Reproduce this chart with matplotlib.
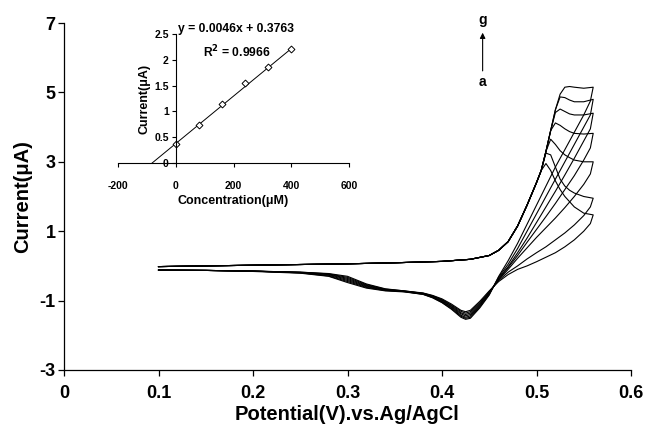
import matplotlib
matplotlib.use("Agg")
import matplotlib.pyplot as plt
import numpy as np

plt.rcParams['font.family'] = ['Liberation Sans', 'DejaVu Sans']
plt.rcParams['font.weight'] = 'bold'
plt.rcParams['axes.unicode_minus'] = False

# ---------------- main CV data ----------------
curve_names = ['a', 'b', 'c', 'd', 'e', 'f', 'g']

fwd_potential = [0.10, 0.15, 0.20, 0.25, 0.30, 0.35, 0.40, 0.43, 0.45, 0.46,
                 0.47, 0.48, 0.49, 0.50, 0.505, 0.51, 0.515, 0.52, 0.525,
                 0.53, 0.535, 0.54, 0.55, 0.56]
fwd_base = [-0.02, 0.00, 0.02, 0.04, 0.06, 0.09, 0.13, 0.19, 0.30, 0.45,
            0.70, 1.15, 1.75, 2.40]
fwd_tail = {
    'a': [2.75, 2.95, 2.75, 2.45, 2.20, 2.00, 1.85, 1.70, 1.52, 1.47],
    'b': [2.75, 3.25, 3.20, 2.85, 2.50, 2.30, 2.18, 2.10, 2.00, 1.95],
    'c': [2.75, 3.30, 3.65, 3.50, 3.32, 3.20, 3.12, 3.05, 3.00, 3.00],
    'd': [2.75, 3.30, 3.90, 4.12, 4.05, 3.95, 3.87, 3.82, 3.80, 3.82],
    'e': [2.75, 3.30, 3.90, 4.42, 4.52, 4.45, 4.38, 4.35, 4.35, 4.40],
    'f': [2.75, 3.30, 3.90, 4.50, 4.87, 4.85, 4.78, 4.73, 4.73, 4.80],
    'g': [2.75, 3.30, 3.90, 4.50, 4.95, 5.15, 5.17, 5.15, 5.12, 5.15],
}

rev_potential = [0.56, 0.557, 0.55, 0.54, 0.53, 0.52, 0.51, 0.50, 0.49, 0.48,
                 0.47, 0.46, 0.45, 0.44, 0.43, 0.425, 0.42, 0.41, 0.40, 0.39,
                 0.38, 0.36, 0.34, 0.32, 0.30, 0.28, 0.25, 0.20, 0.15, 0.10]
rev_current = {
    'a': [1.47, 1.22, 1.00, 0.75, 0.55, 0.38, 0.25, 0.12, 0.00, -0.10, -0.25, -0.45,
          -0.72, -1.02, -1.28, -1.32, -1.28, -1.10, -0.95, -0.85, -0.78, -0.72, -0.66,
          -0.52, -0.30, -0.22, -0.18, -0.15, -0.13, -0.12],
    'b': [1.95, 1.70, 1.45, 1.18, 0.95, 0.75, 0.55, 0.38, 0.20, 0.00, -0.18, -0.42,
          -0.74, -1.06, -1.32, -1.36, -1.31, -1.13, -0.97, -0.86, -0.79, -0.72, -0.67,
          -0.54, -0.33, -0.23, -0.18, -0.15, -0.13, -0.12],
    'c': [3.00, 2.65, 2.35, 2.00, 1.68, 1.38, 1.10, 0.82, 0.52, 0.22, -0.10, -0.40,
          -0.76, -1.09, -1.36, -1.40, -1.35, -1.15, -0.99, -0.87, -0.79, -0.73, -0.68,
          -0.56, -0.36, -0.24, -0.19, -0.15, -0.13, -0.12],
    'd': [3.82, 3.40, 3.05, 2.60, 2.20, 1.80, 1.42, 1.05, 0.68, 0.30, -0.05, -0.38,
          -0.78, -1.12, -1.40, -1.44, -1.38, -1.18, -1.01, -0.89, -0.80, -0.73, -0.69,
          -0.58, -0.39, -0.25, -0.19, -0.15, -0.13, -0.12],
    'e': [4.40, 3.95, 3.60, 3.10, 2.62, 2.15, 1.70, 1.25, 0.80, 0.38, -0.02, -0.35,
          -0.80, -1.15, -1.44, -1.48, -1.42, -1.20, -1.03, -0.90, -0.81, -0.74, -0.70,
          -0.60, -0.42, -0.27, -0.20, -0.15, -0.13, -0.12],
    'f': [4.80, 4.35, 4.00, 3.50, 3.00, 2.50, 2.00, 1.50, 1.00, 0.50, 0.05, -0.32,
          -0.82, -1.18, -1.48, -1.51, -1.45, -1.23, -1.05, -0.91, -0.82, -0.74, -0.71,
          -0.62, -0.45, -0.29, -0.20, -0.15, -0.13, -0.12],
    'g': [5.15, 4.75, 4.35, 3.85, 3.35, 2.85, 2.30, 1.75, 1.20, 0.65, 0.15, -0.30,
          -0.84, -1.21, -1.51, -1.54, -1.48, -1.25, -1.06, -0.92, -0.82, -0.75, -0.72,
          -0.64, -0.48, -0.30, -0.21, -0.16, -0.13, -0.12],
}

x_ticks = [0, 0.1, 0.2, 0.3, 0.4, 0.5, 0.6]
x_ticklabels = ['0', '0.1', '0.2', '0.3', '0.4', '0.5', '0.6']
y_ticks = [-3, -1, 1, 3, 5, 7]
y_ticklabels = ['-3', '-1', '1', '3', '5', '7']

# ---------------- inset calibration data ----------------
concentration = [0, 80, 160, 240, 320, 400]
peak_current = [0.37, 0.74, 1.14, 1.56, 1.87, 2.20]
fit_slope = 0.0046
fit_intercept = 0.3763
inset_x_ticks = [-200, 0, 200, 400, 600]
inset_x_ticklabels = ['-200', '0', '200', '400', '600']
inset_y_ticks = [0, 0.5, 1, 1.5, 2, 2.5]
inset_y_ticklabels = ['0', '0.5', '1', '1.5', '2', '2.5']

# ---------------- figure ----------------
fig = plt.figure(figsize=(6.48, 4.32), dpi=100)
ax = fig.add_axes([64/648, 1-370/432, (631-64)/648, (370-23)/432])

for name in curve_names:
    fwd_i = fwd_base + fwd_tail[name]
    v = list(fwd_potential) + list(rev_potential)
    i = list(fwd_i) + list(rev_current[name])
    ax.plot(v, i, color='black', lw=0.8, solid_joinstyle='round')

ax.set_xlim(0, 0.6)
ax.set_ylim(-3, 7)
ax.set_xticks(x_ticks)
ax.set_xticklabels(x_ticklabels)
ax.set_yticks(y_ticks)
ax.set_yticklabels(y_ticklabels)
for s in ['top', 'right']:
    ax.spines[s].set_visible(False)
for s in ['left', 'bottom']:
    ax.spines[s].set_linewidth(0.9)
ax.tick_params(axis='x', direction='out', length=4, width=0.9, pad=7, labelsize=13)
ax.tick_params(axis='y', direction='out', length=4, width=0.9, pad=2, labelsize=13)
ax.set_xlabel('Potential(V).vs.Ag/AgCl', fontsize=14.5, fontweight='bold', labelpad=2)
ax.set_ylabel('Current(\u03bcA)', fontsize=14.5, fontweight='bold', labelpad=5)

ax.annotate('', xy=(0.443, 6.72), xytext=(0.443, 5.62),
            arrowprops=dict(arrowstyle='-|>', color='black', lw=0.8,
                            mutation_scale=8, shrinkA=0, shrinkB=0))
ax.text(0.443, 7.09, 'g', ha='center', va='center', fontsize=10,
        fontweight='bold', clip_on=False)
ax.text(0.443, 5.30, 'a', ha='center', va='center', fontsize=10,
        fontweight='bold', clip_on=False)

# ---------------- inset ----------------
axi = fig.add_axes([118/648, 1-163/432, (349-118)/648, (163-34)/432])
axi.patch.set_alpha(0)
fit_x = np.array([-fit_intercept/fit_slope, max(concentration)])
axi.plot(fit_x, fit_slope*fit_x + fit_intercept, color='black', lw=0.7)
axi.plot(concentration, peak_current, linestyle='none', marker='D', markersize=3.5,
         mfc='white', mec='black', mew=0.7)
axi.set_xlim(-200, 600)
axi.set_ylim(0, 2.5)
axi.spines['left'].set_position(('data', 0))
for s in ['top', 'right']:
    axi.spines[s].set_visible(False)
for s in ['left', 'bottom']:
    axi.spines[s].set_linewidth(0.8)
axi.set_xticks(inset_x_ticks)
axi.set_xticklabels(inset_x_ticklabels)
axi.set_yticks(inset_y_ticks)
axi.set_yticklabels(inset_y_ticklabels)
axi.tick_params(axis='x', direction='out', length=3, width=0.8, pad=10, labelsize=7.5)
axi.tick_params(axis='y', direction='out', length=3, width=0.8, pad=2, labelsize=7.5)
axi.set_xlabel('Concentration(\u03bcM)', fontsize=9, fontweight='bold', labelpad=3)
axi.set_ylabel('Current(\u03bcA)', fontsize=9, fontweight='bold', labelpad=3)
axi.text(8, 2.6, 'y = 0.0046x + 0.3763', ha='left', va='center', fontsize=8.7,
         fontweight='bold', clip_on=False)
axi.text(94, 2.15, 'R$^\\mathbf{2}$ = 0.9966', ha='left', va='center', fontsize=8.7,
         fontweight='bold', clip_on=False)

fig.savefig('out.png', dpi=100)
